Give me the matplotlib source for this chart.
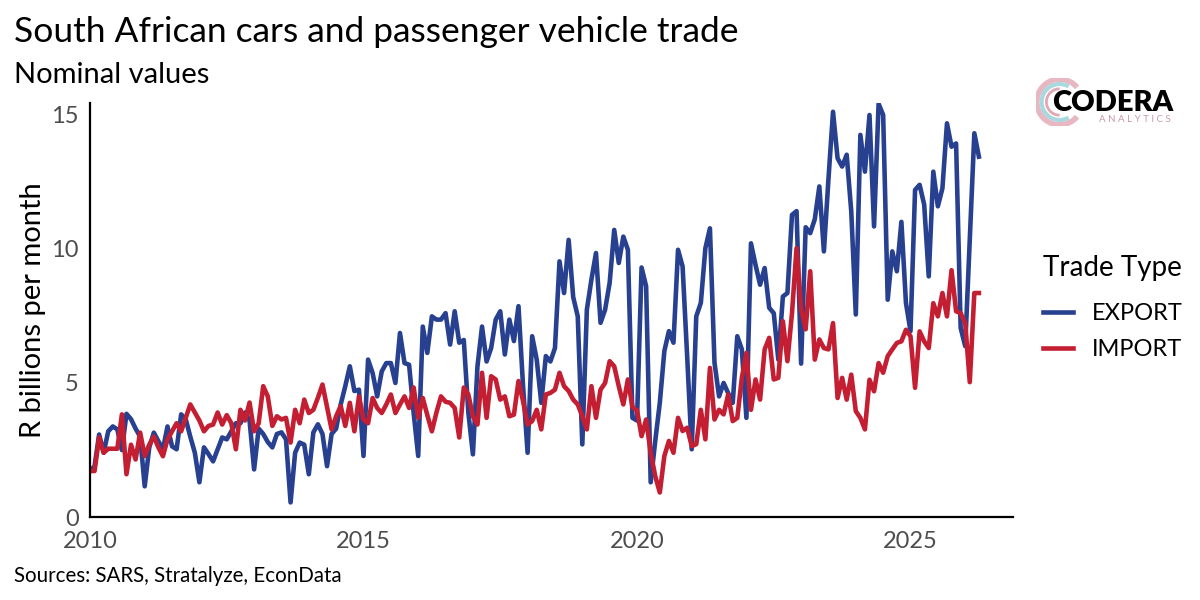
import numpy as np
import matplotlib
matplotlib.use("Agg")
import matplotlib.pyplot as plt
from matplotlib.patches import Arc

plt.rcParams['font.family'] = ['Lato', 'DejaVu Sans']

# monthly values, Jan 2010 .. Apr 2026 (R billions)
export_vals = [
    1.72, 1.9, 3.08, 2.4, 3.2, 3.38, 3.27, 2.5, 3.85, 3.65, 3.3, 3.0,
    1.15, 2.6, 3.15, 2.83, 2.53, 3.38, 2.64, 2.53, 3.83, 3.65, 3.0, 2.4,
    1.3, 2.6, 2.35, 2.08, 2.53, 2.97, 2.9, 3.2, 3.5, 3.5, 3.9, 3.6,
    1.78, 3.3, 3.1, 2.8, 2.6, 3.1, 3.16, 2.9, 0.55, 2.4, 2.78, 2.7,
    1.6, 3.16, 3.46, 3.1, 1.9, 3.1, 3.3, 4.2, 4.88, 5.62, 4.7, 4.75,
    2.28, 5.87, 5.37, 4.5, 5.43, 5.74, 5.74, 5.0, 6.86, 5.74, 5.68, 3.88,
    2.28, 7.1, 6.12, 7.48, 7.36, 7.36, 7.6, 6.43, 7.67, 6.5, 6.6, 3.9,
    2.34, 5.62, 7.1, 5.8, 6.3, 7.36, 7.67, 6.06, 7.36, 6.56, 7.86, 4.88,
    2.4, 6.74, 5.87, 4.26, 6.0, 5.8, 6.3, 9.53, 8.35, 10.33, 8.2, 7.48,
    2.71, 7.73, 8.85, 9.84, 7.24, 7.73, 8.73, 10.7, 9.47, 10.45, 9.96, 3.7,
    3.6, 9.3, 8.6, 1.3, 2.84, 4.26, 6.19, 6.93, 6.5, 9.96, 9.34, 6.0,
    2.53, 7.48, 7.98, 10.02, 10.76, 5.75, 4.5, 5.0, 4.62, 4.26, 6.74, 6.25,
    3.7, 10.2, 9.4, 8.66, 9.28, 7.8, 7.6, 5.87, 8.22, 8.35, 11.26, 11.4,
    5.72, 10.8, 10.58, 11.1, 12.32, 9.9, 12.6, 15.1, 13.37, 13.06, 13.5, 11.39,
    7.55, 14.24, 12.87, 14.98, 10.83, 15.4, 14.98, 8.1, 9.9, 9.16, 11.0, 7.98,
    6.93, 12.19, 12.38, 11.64, 8.97, 12.87, 11.58, 12.25, 14.67, 13.8, 13.92, 7.05,
    6.37, 10.3, 14.3, 13.43,
]

import_vals = [
    1.72, 1.72, 2.97, 2.4, 2.55, 2.55, 2.55, 3.83, 1.6, 2.7, 2.15, 3.15,
    2.28, 2.7, 3.0, 2.6, 2.27, 2.9, 3.2, 3.5, 3.2, 3.7, 4.2, 3.9,
    3.6, 3.2, 3.4, 3.45, 3.9, 3.45, 3.8, 3.5, 2.53, 4.0, 3.6, 4.27,
    3.2, 3.5, 4.88, 4.5, 3.4, 3.76, 3.64, 3.7, 2.78, 4.0, 3.5, 4.38,
    3.88, 4.0, 4.45, 4.94, 4.1, 3.27, 3.76, 4.14, 3.4, 4.26, 3.2, 4.5,
    3.64, 3.5, 4.44, 4.07, 3.88, 4.2, 4.57, 3.88, 4.2, 4.5, 4.07, 4.83,
    3.7, 4.44, 3.8, 3.2, 3.9, 4.5, 4.3, 4.26, 4.07, 2.97, 4.83, 4.57,
    3.76, 3.45, 5.38, 3.7, 5.25, 5.13, 4.38, 4.5, 3.76, 3.82, 5.07, 4.32,
    3.45, 3.58, 4.0, 3.27, 4.57, 4.63, 4.75, 5.38, 4.88, 4.7, 4.38, 4.2,
    3.76, 3.27, 4.88, 3.7, 4.75, 5.0, 5.81, 5.62, 4.88, 4.2, 5.13, 4.1,
    3.98, 3.02, 3.64, 2.4, 1.53, 0.92, 2.28, 2.84, 2.4, 3.7, 3.21, 3.33,
    2.65, 2.72, 4.0, 2.9, 5.56, 3.64, 4.0, 3.83, 4.57, 3.58, 3.7, 5.19,
    6.12, 4.0, 5.13, 4.38, 6.25, 6.68, 5.13, 5.19, 7.3, 5.81, 7.6, 10.02,
    7.74, 7.0, 9.16, 5.87, 6.62, 6.3, 6.25, 7.23, 4.44, 5.19, 4.38, 5.31,
    3.95, 3.7, 3.27, 5.12, 4.69, 5.74, 5.38, 6.0, 6.25, 6.49, 6.55, 6.98,
    6.74, 4.82, 6.92, 6.55, 6.3, 7.97, 7.48, 8.35, 7.48, 9.2, 7.67, 7.6,
    7.23, 5.03, 8.35, 8.35,
]

series_names = ['EXPORT', 'IMPORT']
x_ticks = [2010, 2015, 2020, 2025]
y_ticks = [0, 5, 10, 15]

blue = '#27408f'
red = '#c41e32'

t = 2010 + np.arange(len(export_vals)) / 12.0

fig = plt.figure(figsize=(12, 6), dpi=100)
ax = fig.add_axes([0.075, 0.138, 0.769, 0.69])

ax.plot(t, export_vals, color=blue, lw=3.3, label=series_names[0])
ax.plot(t, import_vals, color=red, lw=3.3, label=series_names[1])

ax.set_xlim(2010, 2026.87)
ax.set_ylim(0, 15.42)
ax.set_xticks(x_ticks)
ax.set_yticks(y_ticks)
ax.tick_params(length=0, labelsize=17, labelcolor='#4d4d4d')
ax.tick_params(axis='x', pad=10)
ax.tick_params(axis='y', pad=8)
for s in ['top', 'right']:
    ax.spines[s].set_visible(False)
for s in ['left', 'bottom']:
    ax.spines[s].set_linewidth(1.6)
    ax.spines[s].set_color('black')
ax.set_ylabel('R billions per month', fontsize=21, labelpad=4)

fig.text(0.012, 0.93, 'South African cars and passenger vehicle trade', fontsize=25.5)
fig.text(0.012, 0.862, 'Nominal values', fontsize=21)
fig.text(0.012, 0.03, 'Sources: SARS, Stratalyze, EconData', fontsize=14.8)

leg = ax.legend(title='Trade Type', loc='upper left',
                bbox_to_anchor=(1043 / 1200, 1 - 255 / 600),
                bbox_transform=fig.transFigure, frameon=False, fontsize=17,
                title_fontsize=20, handlelength=1.25, handletextpad=0.8,
                labelspacing=0.62, borderpad=0, borderaxespad=0,
                alignment='left')
leg._legend_box.sep = 16
for line in leg.get_lines():
    line.set_linewidth(3.3)

# logo
lax = fig.add_axes([0.858, 0.79, 0.05, 0.08])
lax.set_xlim(-1, 1)
lax.set_ylim(-1, 1)
lax.set_aspect('equal')
lax.axis('off')
lax.add_patch(Arc((0, 0), 1.9, 1.9, theta1=40, theta2=320, color='#e7b8c2', lw=4))
lax.add_patch(Arc((0, 0), 1.5, 1.5, theta1=60, theta2=300, color='#a9d8de', lw=3))
lax.add_patch(Arc((0, 0), 1.1, 1.1, theta1=90, theta2=270, color='#e3a7b4', lw=2))
fig.text(0.927, 0.828, 'CODERA', fontsize=21, fontweight='heavy', ha='center', va='center')
fig.text(0.946, 0.80, 'A N A L Y T I C S', fontsize=7, color='#c99aa8', ha='center', va='center')

fig.savefig('out.png', dpi=100)
